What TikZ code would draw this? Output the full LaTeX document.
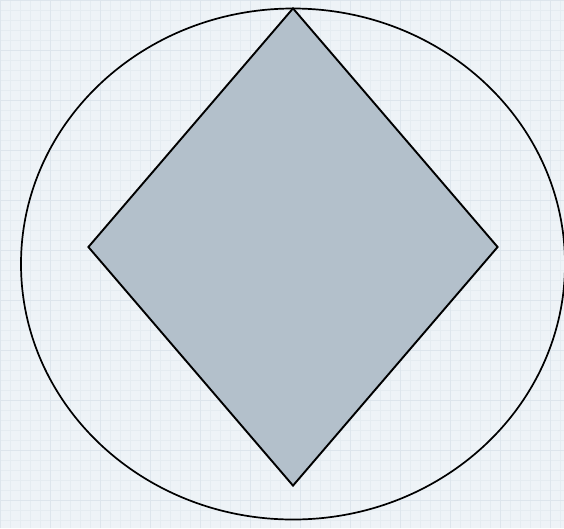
\documentclass[tikz,border=0pt]{standalone}
\usetikzlibrary{shapes.geometric}
\definecolor{paper}{HTML}{EEF3F7}
\definecolor{gridc}{HTML}{E5ECF1}
\definecolor{gridmaj}{HTML}{DDE5EC}
\definecolor{diafill}{HTML}{B3C0CB}
\tikzset{
  outer/.style={ellipse, draw=black, line width=1.7pt, minimum width=544pt, minimum height=511pt, inner sep=0pt},
  rhomb/.style={diamond, draw=black, fill=diafill, line width=1.9pt, minimum width=410pt, minimum height=478pt, inner sep=0pt, aspect=0.86}
}
\begin{document}
\begin{tikzpicture}[x=1pt,y=-1pt]
\useasboundingbox (0,0) rectangle (564,528);
\fill[paper] (0,0) rectangle (564,528);
\draw[gridc, line width=0.3pt] (0,0) grid[step=10pt] (564,528);
\draw[gridmaj, line width=0.7pt] (0,0) grid[step=50pt] (564,528);
\node[outer] (ring) at (293,264) {};
\node[rhomb] (gem) at (293,247) {};
\end{tikzpicture}
\end{document}
